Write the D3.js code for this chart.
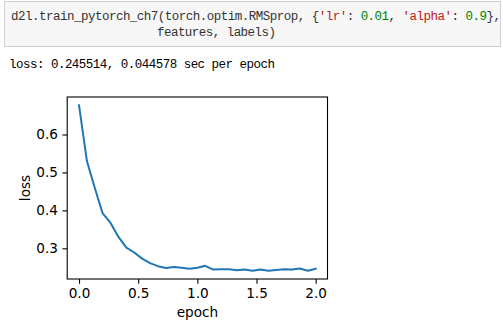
<!DOCTYPE html>
<html><head><meta charset="utf-8">
<script src="https://cdn.jsdelivr.net/npm/d3@7"></script>
<style>
html,body{margin:0;padding:0;background:#fff;}
svg{display:block;}
</style></head>
<body>
<svg id="c" width="503" height="325"></svg>
<script>
// ---- data ----
const epochs = d3.range(31).map(i => i / 15);
const loss = [0.677, 0.530, 0.459, 0.392, 0.367, 0.330, 0.302, 0.289, 0.273, 0.261,
              0.253, 0.248, 0.251, 0.249, 0.246, 0.249, 0.254, 0.244, 0.245, 0.245,
              0.242, 0.244, 0.241, 0.244, 0.241, 0.243, 0.245, 0.244, 0.247, 0.241, 0.246];
const xTicks = [0.0, 0.5, 1.0, 1.5, 2.0];
const yTicks = [0.3, 0.4, 0.5, 0.6];
const xLabel = "epoch";
const yLabel = "loss";
const codeTokens = [
  ["d2l.train_pytorch_ch7(torch.optim.RMSprop, {", "#333"],
  ["'lr'", "#BA2121"], [": ", "#333"], ["0.01", "#008000"], [", ", "#333"],
  ["'alpha'", "#BA2121"], [": ", "#333"], ["0.9", "#008000"], ["},", "#333"]
];
const codeLine2 = "features, labels)";
const outputText = "loss: 0.245514, 0.044578 sec per epoch";

// ---- drawing ----
const svg = d3.select("#c");
const mono = "'Liberation Mono', 'DejaVu Sans Mono', monospace";
const CW = 7;
const mfs = 12.5;

svg.append("rect").attr("x", 4.5).attr("y", 1.5).attr("width", 496).attr("height", 45)
  .attr("fill", "#f7f7f7").attr("stroke", "#cfcfcf").attr("stroke-width", 1);

const l1 = svg.append("text").attr("x", 11).attr("y", 20)
  .attr("font-family", mono).attr("font-size", mfs).attr("xml:space", "preserve")
  .style("white-space", "pre")
  .attr("textLength", codeTokens.map(d => d[0]).join("").length * CW)
  .attr("lengthAdjust", "spacing");
codeTokens.forEach(([t, c]) => l1.append("tspan").attr("fill", c).text(t));

svg.append("text").attr("x", 157).attr("y", 36)
  .attr("font-family", mono).attr("font-size", mfs).attr("fill", "#333")
  .attr("textLength", codeLine2.length * CW).attr("lengthAdjust", "spacing")
  .text(codeLine2);

svg.append("text").attr("x", 9).attr("y", 67.5)
  .attr("font-family", mono).attr("font-size", mfs).attr("fill", "#000")
  .style("white-space", "pre")
  .attr("textLength", outputText.length * CW).attr("lengthAdjust", "spacing")
  .text(outputText);

// chart
const L = 67.2, R = 327.5, T = 97, B = 279;
const xExt = d3.extent(epochs), yExt = d3.extent(loss);
const xm = (xExt[1] - xExt[0]) * 0.05, ym = (yExt[1] - yExt[0]) * 0.05;
const x = d3.scaleLinear().domain([xExt[0] - xm, xExt[1] + xm]).range([L, R]);
const y = d3.scaleLinear().domain([yExt[0] - ym, yExt[1] + ym]).range([B, T]);

const font = "'DejaVu Sans', sans-serif";
const fs = 13.6;

const gx = svg.append("g").attr("transform", `translate(0,${B})`)
  .call(d3.axisBottom(x).tickValues(xTicks).tickFormat(d3.format(".1f")).tickSizeOuter(0).tickSize(4.8).tickPadding(4.5));
const gy = svg.append("g").attr("transform", `translate(${L},0)`)
  .call(d3.axisLeft(y).tickValues(yTicks).tickFormat(d3.format(".1f")).tickSizeOuter(0).tickSize(4.8).tickPadding(4.5));
[gx, gy].forEach(g => {
  g.select(".domain").remove();
  g.selectAll("line").attr("stroke", "#000").attr("stroke-width", 1.1);
  g.selectAll("text").attr("font-family", font).attr("font-size", fs).attr("fill", "#000");
});

svg.append("path").datum(loss)
  .attr("fill", "none").attr("stroke", "#1f77b4").attr("stroke-width", 2)
  .attr("stroke-linejoin", "round").attr("stroke-linecap", "square")
  .attr("d", d3.line().x((d, i) => x(epochs[i])).y(d => y(d)));

svg.append("rect").attr("x", L).attr("y", T).attr("width", R - L).attr("height", B - T)
  .attr("fill", "none").attr("stroke", "#000").attr("stroke-width", 1.1);

svg.append("text").attr("x", (L + R) / 2).attr("y", 317)
  .attr("text-anchor", "middle").attr("font-family", font).attr("font-size", fs)
  .text(xLabel);
svg.append("text").attr("transform", `translate(29.5,${(T + B) / 2}) rotate(-90)`)
  .attr("text-anchor", "middle").attr("font-family", font).attr("font-size", fs)
  .text(yLabel);
</script>
</body></html>
